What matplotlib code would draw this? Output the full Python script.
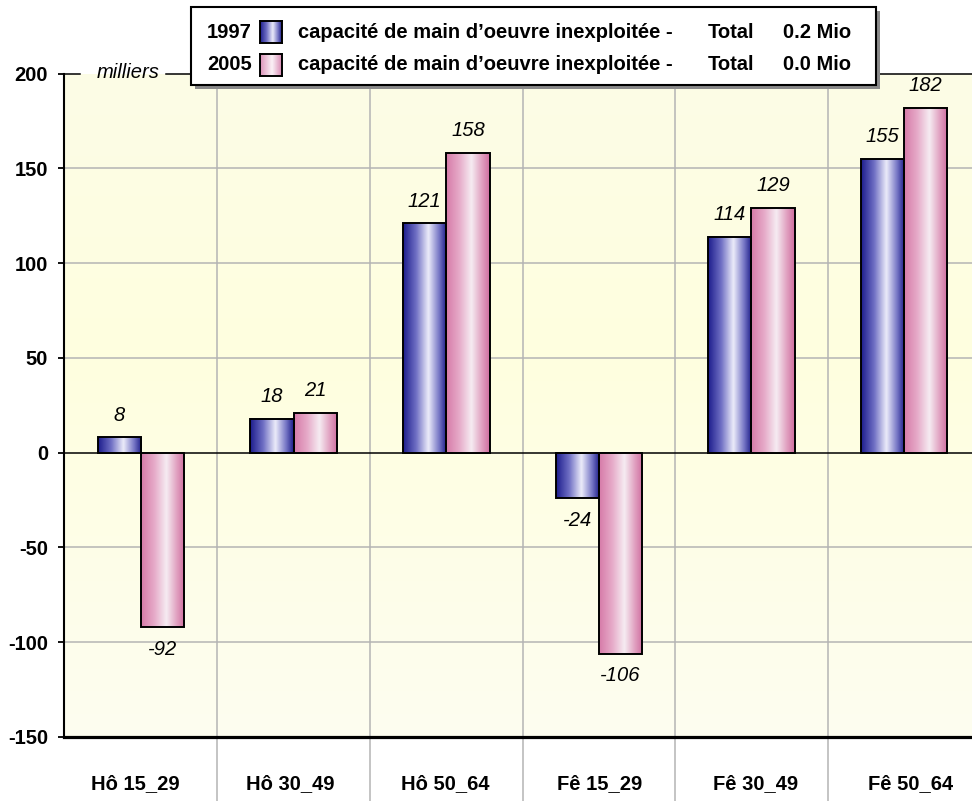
import numpy as np
import matplotlib
matplotlib.use("Agg")
import matplotlib.pyplot as plt
from matplotlib.colors import LinearSegmentedColormap
from matplotlib.patches import Rectangle
from matplotlib.lines import Line2D
from matplotlib.transforms import blended_transform_factory

plt.rcParams['font.family'] = ['Liberation Sans', 'DejaVu Sans']

# data (milliers)
categories = ['Hô 15_29', 'Hô 30_49', 'Hô 50_64', 'Fê 15_29', 'Fê 30_49', 'Fê 50_64']
values_1997 = [8, 18, 121, -24, 114, 155]
values_2005 = [-92, 21, 158, -106, 129, 182]
legend_years = ['1997', '2005']
legend_desc = "capacité de main d\u2019oeuvre inexploitée -"
legend_totals = ['0.2 Mio', '0.0 Mio']
yticks = [-150, -100, -50, 0, 50, 100, 150, 200]

W, H = 972, 801
FS = 14.5


def fx(px):
    return px / W


def fy(py):
    return 1 - py / H


blue_cmap = LinearSegmentedColormap.from_list(
    'b', [(0, '#1c1c8c'), (0.3, '#6f6fc4'), (0.58, '#ececfa'), (0.82, '#7878c6'), (1, '#1a1a88')])
pink_cmap = LinearSegmentedColormap.from_list(
    'p', [(0, '#d67aa8'), (0.3, '#e6aac8'), (0.58, '#f6ecf2'), (0.82, '#e0a0c0'), (1, '#d06c9e')])
pink_leg_cmap = LinearSegmentedColormap.from_list(
    'pl', [(0, '#dc90b8'), (0.55, '#fbf2f7'), (1, '#d888b2')])
bg_cmap = LinearSegmentedColormap.from_list(
    'bg', [(0, '#fcfce6'), (0.43, '#ffffdf'), (1, '#fdfdf0')])

grad = np.linspace(0, 1, 256).reshape(1, -1)


def gradient_bar(ax, xc, width, value, cmap):
    x0, x1 = xc - width / 2, xc + width / 2
    y0, y1 = min(0, value), max(0, value)
    ax.imshow(grad, cmap=cmap, extent=[x0, x1, y0, y1], aspect='auto',
              interpolation='bicubic', zorder=3)
    ax.add_patch(Rectangle((x0, y0), width, y1 - y0, fill=False,
                           edgecolor='black', lw=1.4, zorder=4))


fig = plt.figure(figsize=(9.72, 8.01), dpi=100)
fig.patch.set_facecolor('white')

unit = 152.6
xmin, xmax, ymin, ymax = -0.505, 5.5, -150, 200
ax_right = 64 + (xmax - xmin) * unit
ax = fig.add_axes([fx(64), fy(737), (ax_right - 64) / W, (737 - 73.5) / H])

# background
ax.imshow(np.linspace(0, 1, 256).reshape(-1, 1), cmap=bg_cmap,
          extent=[xmin, xmax, ymin, ymax], aspect='auto', zorder=0)

# grid
grid_col = '#b4b4b4'
for v in [150, 100, 50, -50, -100]:
    ax.plot([xmin, xmax], [v, v], color=grid_col, lw=1.1, zorder=1)
for i in range(len(categories) - 1):
    ax.plot([i + 0.5, i + 0.5], [ymax, -200], color=grid_col, lw=1.1,
            zorder=1, clip_on=False)

ax.axhline(0, color='black', lw=1.1, zorder=2)

w = 0.284
x = np.arange(len(categories))
for i in range(len(categories)):
    gradient_bar(ax, x[i] - w / 2, w, values_1997[i], blue_cmap)
    gradient_bar(ax, x[i] + w / 2, w, values_2005[i], pink_cmap)

for xs, vals in [(x - w / 2, values_1997), (x + w / 2, values_2005)]:
    for xi, v in zip(xs, vals):
        off = 16 if v >= 0 else -16
        ax.annotate(str(v), (xi, v), xytext=(0, off), textcoords='offset points',
                    ha='center', va='center', fontsize=FS, style='italic', zorder=5)

ax.set_xlim(xmin, xmax)
ax.set_ylim(ymin, ymax)
ax.set_yticks(yticks)
ax.set_yticklabels([str(t) for t in yticks], fontsize=FS, fontweight='bold')
ax.tick_params(axis='y', direction='out', length=4.5, width=1.3, pad=7)
ax.set_xticks([])
for s in ['top', 'right']:
    ax.spines[s].set_visible(False)
ax.spines['left'].set_linewidth(1.5)
ax.spines['bottom'].set_linewidth(2.3)
ax.spines['left'].set_zorder(6)
ax.spines['bottom'].set_zorder(6)

# category labels under the axis
trans = blended_transform_factory(ax.transData, fig.transFigure)
for i, c in enumerate(categories):
    ax.text(i - 0.04 + 0.016 * i, fy(784), c, transform=trans, ha='center', va='center',
            fontsize=FS, fontweight='bold', clip_on=False)

# top border line with "milliers"
fig.add_artist(Line2D([fx(64), fx(80)], [fy(73.5), fy(73.5)], color='black', lw=1.1))
fig.add_artist(Line2D([fx(166), 1.0], [fy(73.5), fy(73.5)], color='black', lw=1.1))
fig.text(fx(128), fy(72), 'milliers', ha='center', va='center', fontsize=FS, style='italic')

# legend box with shadow
fig.add_artist(Rectangle((fx(195), fy(89)), (876 - 191) / W, (85 - 7) / H,
                         transform=fig.transFigure, facecolor='#8a8a8a',
                         edgecolor='none', zorder=2))
fig.add_artist(Rectangle((fx(191), fy(85)), (876 - 191) / W, (85 - 7) / H,
                         transform=fig.transFigure, facecolor='white',
                         edgecolor='black', lw=1.5, zorder=3))

row_y = [32, 65]
leg_cmaps = [blue_cmap, pink_leg_cmap]
for k in range(2):
    yc = row_y[k]
    fig.text(fx(207), fy(yc), legend_years[k], ha='left', va='center',
             fontsize=FS, fontweight='bold', zorder=4)
    pax = fig.add_axes([fx(260), fy(yc + 11), 22 / W, 22 / H], zorder=5)
    pax.imshow(grad, cmap=leg_cmaps[k], aspect='auto', interpolation='bicubic')
    pax.set_xticks([])
    pax.set_yticks([])
    for s in pax.spines.values():
        s.set_linewidth(1.4)
    fig.text(fx(298), fy(yc), legend_desc, ha='left', va='center',
             fontsize=FS, fontweight='bold', zorder=4)
    fig.text(fx(708), fy(yc), 'Total', ha='left', va='center',
             fontsize=FS, fontweight='bold', zorder=4)
    fig.text(fx(783), fy(yc), legend_totals[k], ha='left', va='center',
             fontsize=FS, fontweight='bold', zorder=4)

fig.savefig('out.png', dpi=100)
